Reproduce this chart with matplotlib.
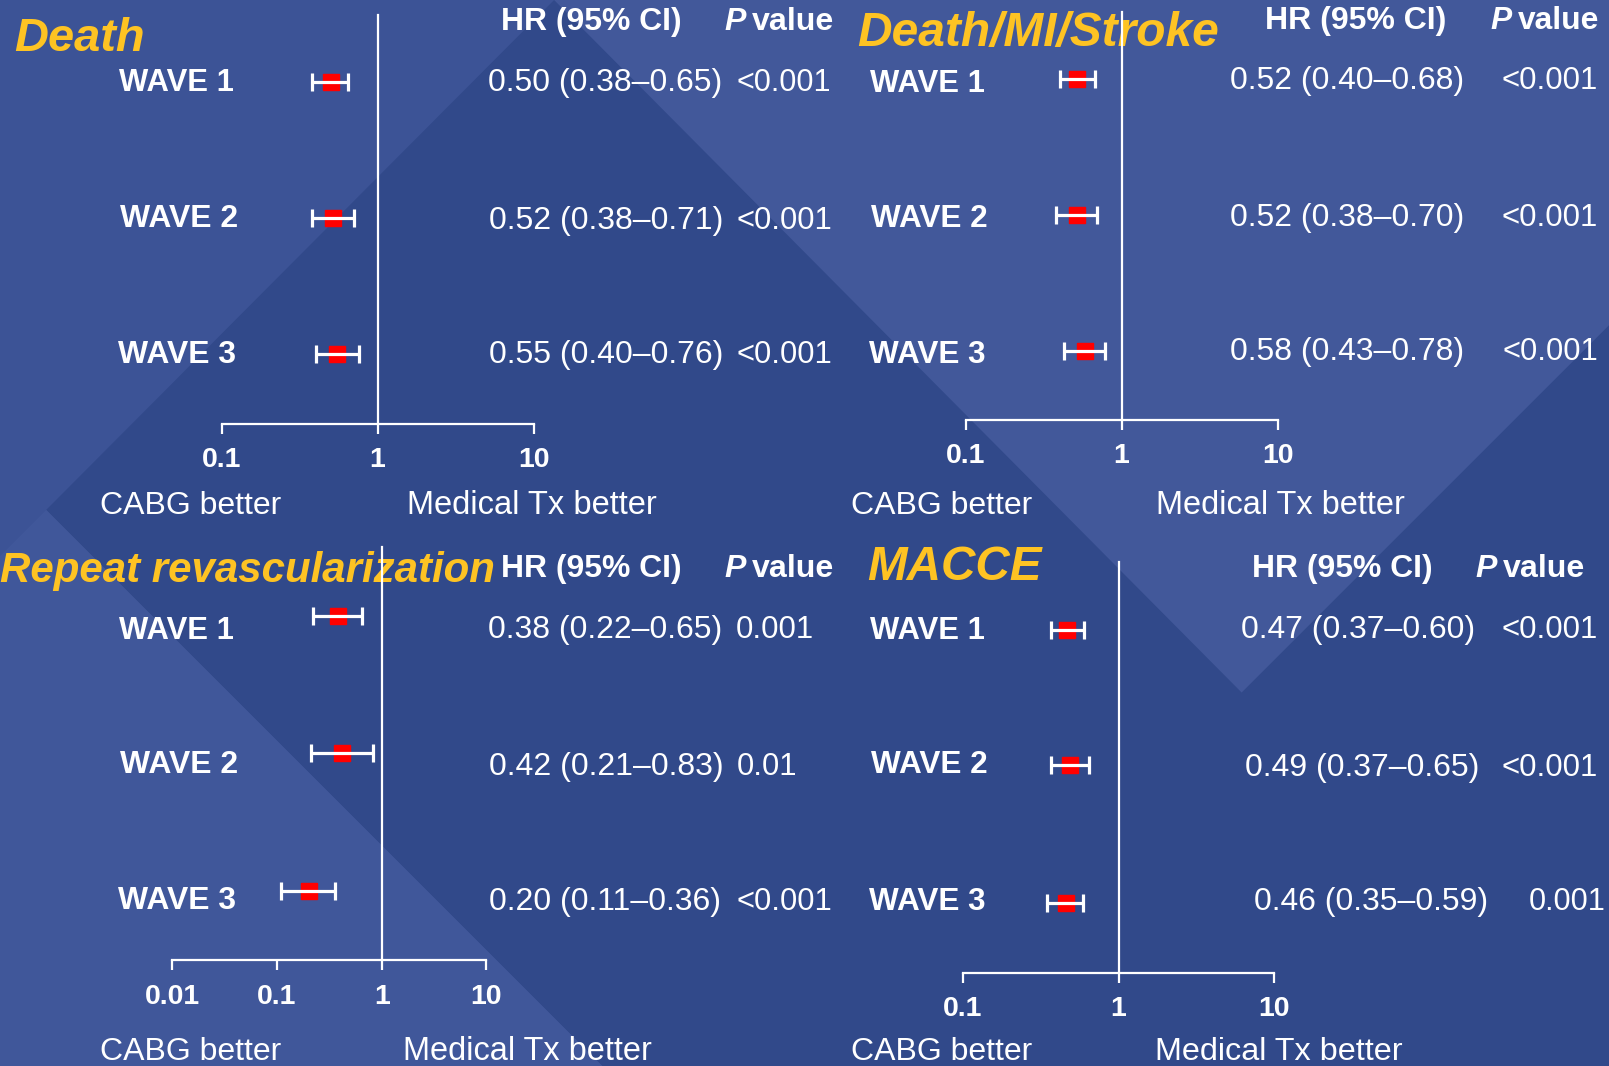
import numpy as np
import matplotlib
matplotlib.use('Agg')
import matplotlib.pyplot as plt
from matplotlib.patches import Polygon
from matplotlib.ticker import FixedLocator, FixedFormatter, NullLocator

# ---------------- data ----------------
panel_titles = ["Death", "Death/MI/Stroke", "Repeat revascularization", "MACCE"]
waves = ["WAVE 1", "WAVE 2", "WAVE 3"]

death_hr = [0.50, 0.52, 0.55]
death_lo = [0.38, 0.38, 0.40]
death_hi = [0.65, 0.71, 0.76]
death_p = ["<0.001", "<0.001", "<0.001"]

dms_hr = [0.52, 0.52, 0.58]
dms_lo = [0.40, 0.38, 0.43]
dms_hi = [0.68, 0.70, 0.78]
dms_p = ["<0.001", "<0.001", "<0.001"]

rr_hr = [0.38, 0.42, 0.20]
rr_lo = [0.22, 0.21, 0.11]
rr_hi = [0.65, 0.83, 0.36]
rr_p = ["0.001", "0.01", "<0.001"]

macce_hr = [0.47, 0.49, 0.46]
macce_lo = [0.37, 0.37, 0.35]
macce_hi = [0.60, 0.65, 0.59]
macce_p = ["<0.001", "<0.001", "0.001"]

ticks_std = [0.1, 1, 10]
tick_labels_std = ["0.1", "1", "10"]
ticks_rr = [0.01, 0.1, 1, 10]
tick_labels_rr = ["0.01", "0.1", "1", "10"]

left_label = "CABG better"
right_label = "Medical Tx better"
hdr_hr = "HR (95% CI)"
hdr_p = "P"
hdr_value = "value"

# ---------------- layout (reference pixel grid) ----------------
W, H = 1568, 1039
FW, FH = 1609, 1066
DPI = 100
SX = FW / W

BASE = '#31498a'
YELLOW = '#fec323'

plt.rcParams['font.family'] = ['Liberation Sans', 'DejaVu Sans']

layout = [
    dict(title=(14, 141, 33), x1=368, dec=152, rows=[80, 212, 345], vtop=15, axy=413,
         wave=[(116, 228, 78), (117, 232, 210), (115, 230, 343)],
         hr=[(476, 704, 78), (477, 706, 212), (477, 706, 343)],
         p=[(718, 810, 78), (718, 811, 212), (718, 811, 343)],
         hdr=(488, 664, 18), pv=(706, 733, 813, 18), cabg=(97, 273, 490), med=(397, 640, 490)),
    dict(title=(835, 1187, 28), x1=1093, dec=152, rows=[77, 210, 342], vtop=12, axy=409,
         wave=[(848, 960, 79), (849, 963, 210), (847, 961, 343)],
         hr=[(1199, 1427, 76), (1199, 1427, 209), (1199, 1427, 340)],
         p=[(1463, 1557, 76), (1463, 1557, 209), (1464, 1557, 340)],
         hdr=(1233, 1410, 17), pv=(1452, 1479, 1558, 17), cabg=(829, 1005, 490), med=(1127, 1369, 490)),
    dict(title=(0, 481, 553), x1=372, dec=102, rows=[600, 734, 868], vtop=533, axy=936,
         wave=[(116, 228, 612), (117, 232, 742), (115, 230, 875)],
         hr=[(476, 704, 611), (477, 706, 744), (477, 704, 876)],
         p=[(717, 793, 611), (718, 777, 744), (718, 811, 876)],
         hdr=(488, 664, 551), pv=(706, 733, 813, 551), cabg=(97, 273, 1022), med=(393, 635, 1022)),
    dict(title=(845, 1015, 549), x1=1090, dec=152, rows=[614, 746, 880], vtop=548, axy=948,
         wave=[(848, 960, 612), (849, 963, 742), (847, 961, 876)],
         hr=[(1209, 1437, 611), (1213, 1442, 745), (1222, 1450, 876)],
         p=[(1463, 1557, 611), (1463, 1557, 745), (1490, 1565, 876)],
         hdr=(1220, 1396, 551), pv=(1438, 1465, 1545, 551), cabg=(829, 1005, 1022), med=(1126, 1367, 1022)),
]

panel_data = [
    (death_hr, death_lo, death_hi, death_p, ticks_std, tick_labels_std),
    (dms_hr, dms_lo, dms_hi, dms_p, ticks_std, tick_labels_std),
    (rr_hr, rr_lo, rr_hi, rr_p, ticks_rr, tick_labels_rr),
    (macce_hr, macce_lo, macce_hi, macce_p, ticks_std, tick_labels_std),
]

fig = plt.figure(figsize=(FW / DPI, FH / DPI), dpi=DPI)
fig.patch.set_facecolor(BASE)
renderer = fig.canvas.get_renderer()

bg = fig.add_axes([0, 0, 1, 1], zorder=0)
bg.set_xlim(0, W)
bg.set_ylim(H, 0)
bg.axis('off')
bg.add_patch(Polygon([(0, 0), (W, 0), (W, H), (0, H)], closed=True, fc=BASE, ec='none', zorder=0))
# lighter diagonal shapes of the slide background
bg.add_patch(Polygon([(0, 0), (540, 0), (45, 497), (587, H), (0, H)], closed=True,
                     fc='#3c5396', ec='none', zorder=0.1))
bg.add_patch(Polygon([(0, 542), (45, 497), (587, H), (0, H)], closed=True,
                     fc='#40579a', ec='none', zorder=0.15))
bg.add_patch(Polygon([(540, 0), (W, 0), (W, 317), (1210, 675)], closed=True,
                     fc='#42589a', ec='none', zorder=0.1))


def put(s, x0, x1, yc, weight='normal', style='normal', color='white', fs=None):
    t = bg.text(x0, yc, s, fontsize=20, fontweight=weight, fontstyle=style, color=color,
                ha='left', va='baseline', zorder=5)
    if fs is None:
        bb = t.get_window_extent(renderer)
        fs = 20 * (x1 - x0) * SX / bb.width
    t.set_fontsize(fs)
    em = fs * DPI / 72 / SX
    t.set_y(yc + 0.36 * em)
    return fs


for k in range(4):
    L = layout[k]
    hr, lo, hi, pv, ticks, tlabels = panel_data[k]
    hr = np.array(hr); lo = np.array(lo); hi = np.array(hi)

    # texts
    t0, t1, ty = L['title']
    put(panel_titles[k], t0, t1, ty, weight='bold', style='italic', color=YELLOW)
    h0, h1, hy = L['hdr']
    put(hdr_hr, h0, h1, hy, weight='bold')
    p0, v0, v1, py = L['pv']
    fsv = put(hdr_value, v0, v1, py, weight='bold')
    put(hdr_p, p0, v0, py, weight='bold', style='italic', fs=fsv)
    for i in range(3):
        a, b, y = L['wave'][i]
        put(waves[i], a, b, y, weight='bold')
        a, b, y = L['hr'][i]
        put(f"{hr[i]:.2f} ({lo[i]:.2f}\u2013{hi[i]:.2f})", a, b, y)
        a, b, y = L['p'][i]
        put(pv[i], a, b, y)
    a, b, y = L['cabg']
    put(left_label, a, b, y)
    a, b, y = L['med']
    put(right_label, a, b, y)

    # forest axes
    ax = fig.add_axes([0, 0, 1, 1], zorder=1 + k)
    ax.patch.set_visible(False)
    ax.set_xscale('log')
    x1, dec = L['x1'], L['dec']
    ax.set_xlim(10 ** ((0 - x1) / dec), 10 ** ((W - x1) / dec))
    ax.set_ylim(H, 0)
    for s in ['top', 'left', 'right']:
        ax.spines[s].set_visible(False)
    ax.spines['bottom'].set_position(('data', L['axy']))
    ax.spines['bottom'].set_bounds(ticks[0], ticks[-1])
    ax.spines['bottom'].set_color('white')
    ax.spines['bottom'].set_linewidth(1.6)
    ax.xaxis.set_major_locator(FixedLocator(ticks))
    ax.xaxis.set_major_formatter(FixedFormatter(tlabels))
    ax.xaxis.set_minor_locator(NullLocator())
    ax.tick_params(axis='x', direction='out', length=7.5, width=1.6, colors='white',
                   labelsize=20.5, pad=9.5)
    for lab in ax.get_xticklabels():
        lab.set_fontweight('bold')
    ax.set_yticks([])
    ax.plot([1, 1], [L['vtop'], L['axy']], color='white', lw=1.6, zorder=2)

    rows = np.array(L['rows'])
    ax.plot(hr, rows, linestyle='none', marker='s', color='red', ms=11.5, mec='red', zorder=3)
    ax.errorbar(hr, rows, xerr=[hr - lo, hi - hr], fmt='none', ecolor='white',
                elinewidth=2.3, capsize=6.3, capthick=2.3, zorder=4)

fig.savefig('out.png', dpi=DPI, facecolor=BASE)
